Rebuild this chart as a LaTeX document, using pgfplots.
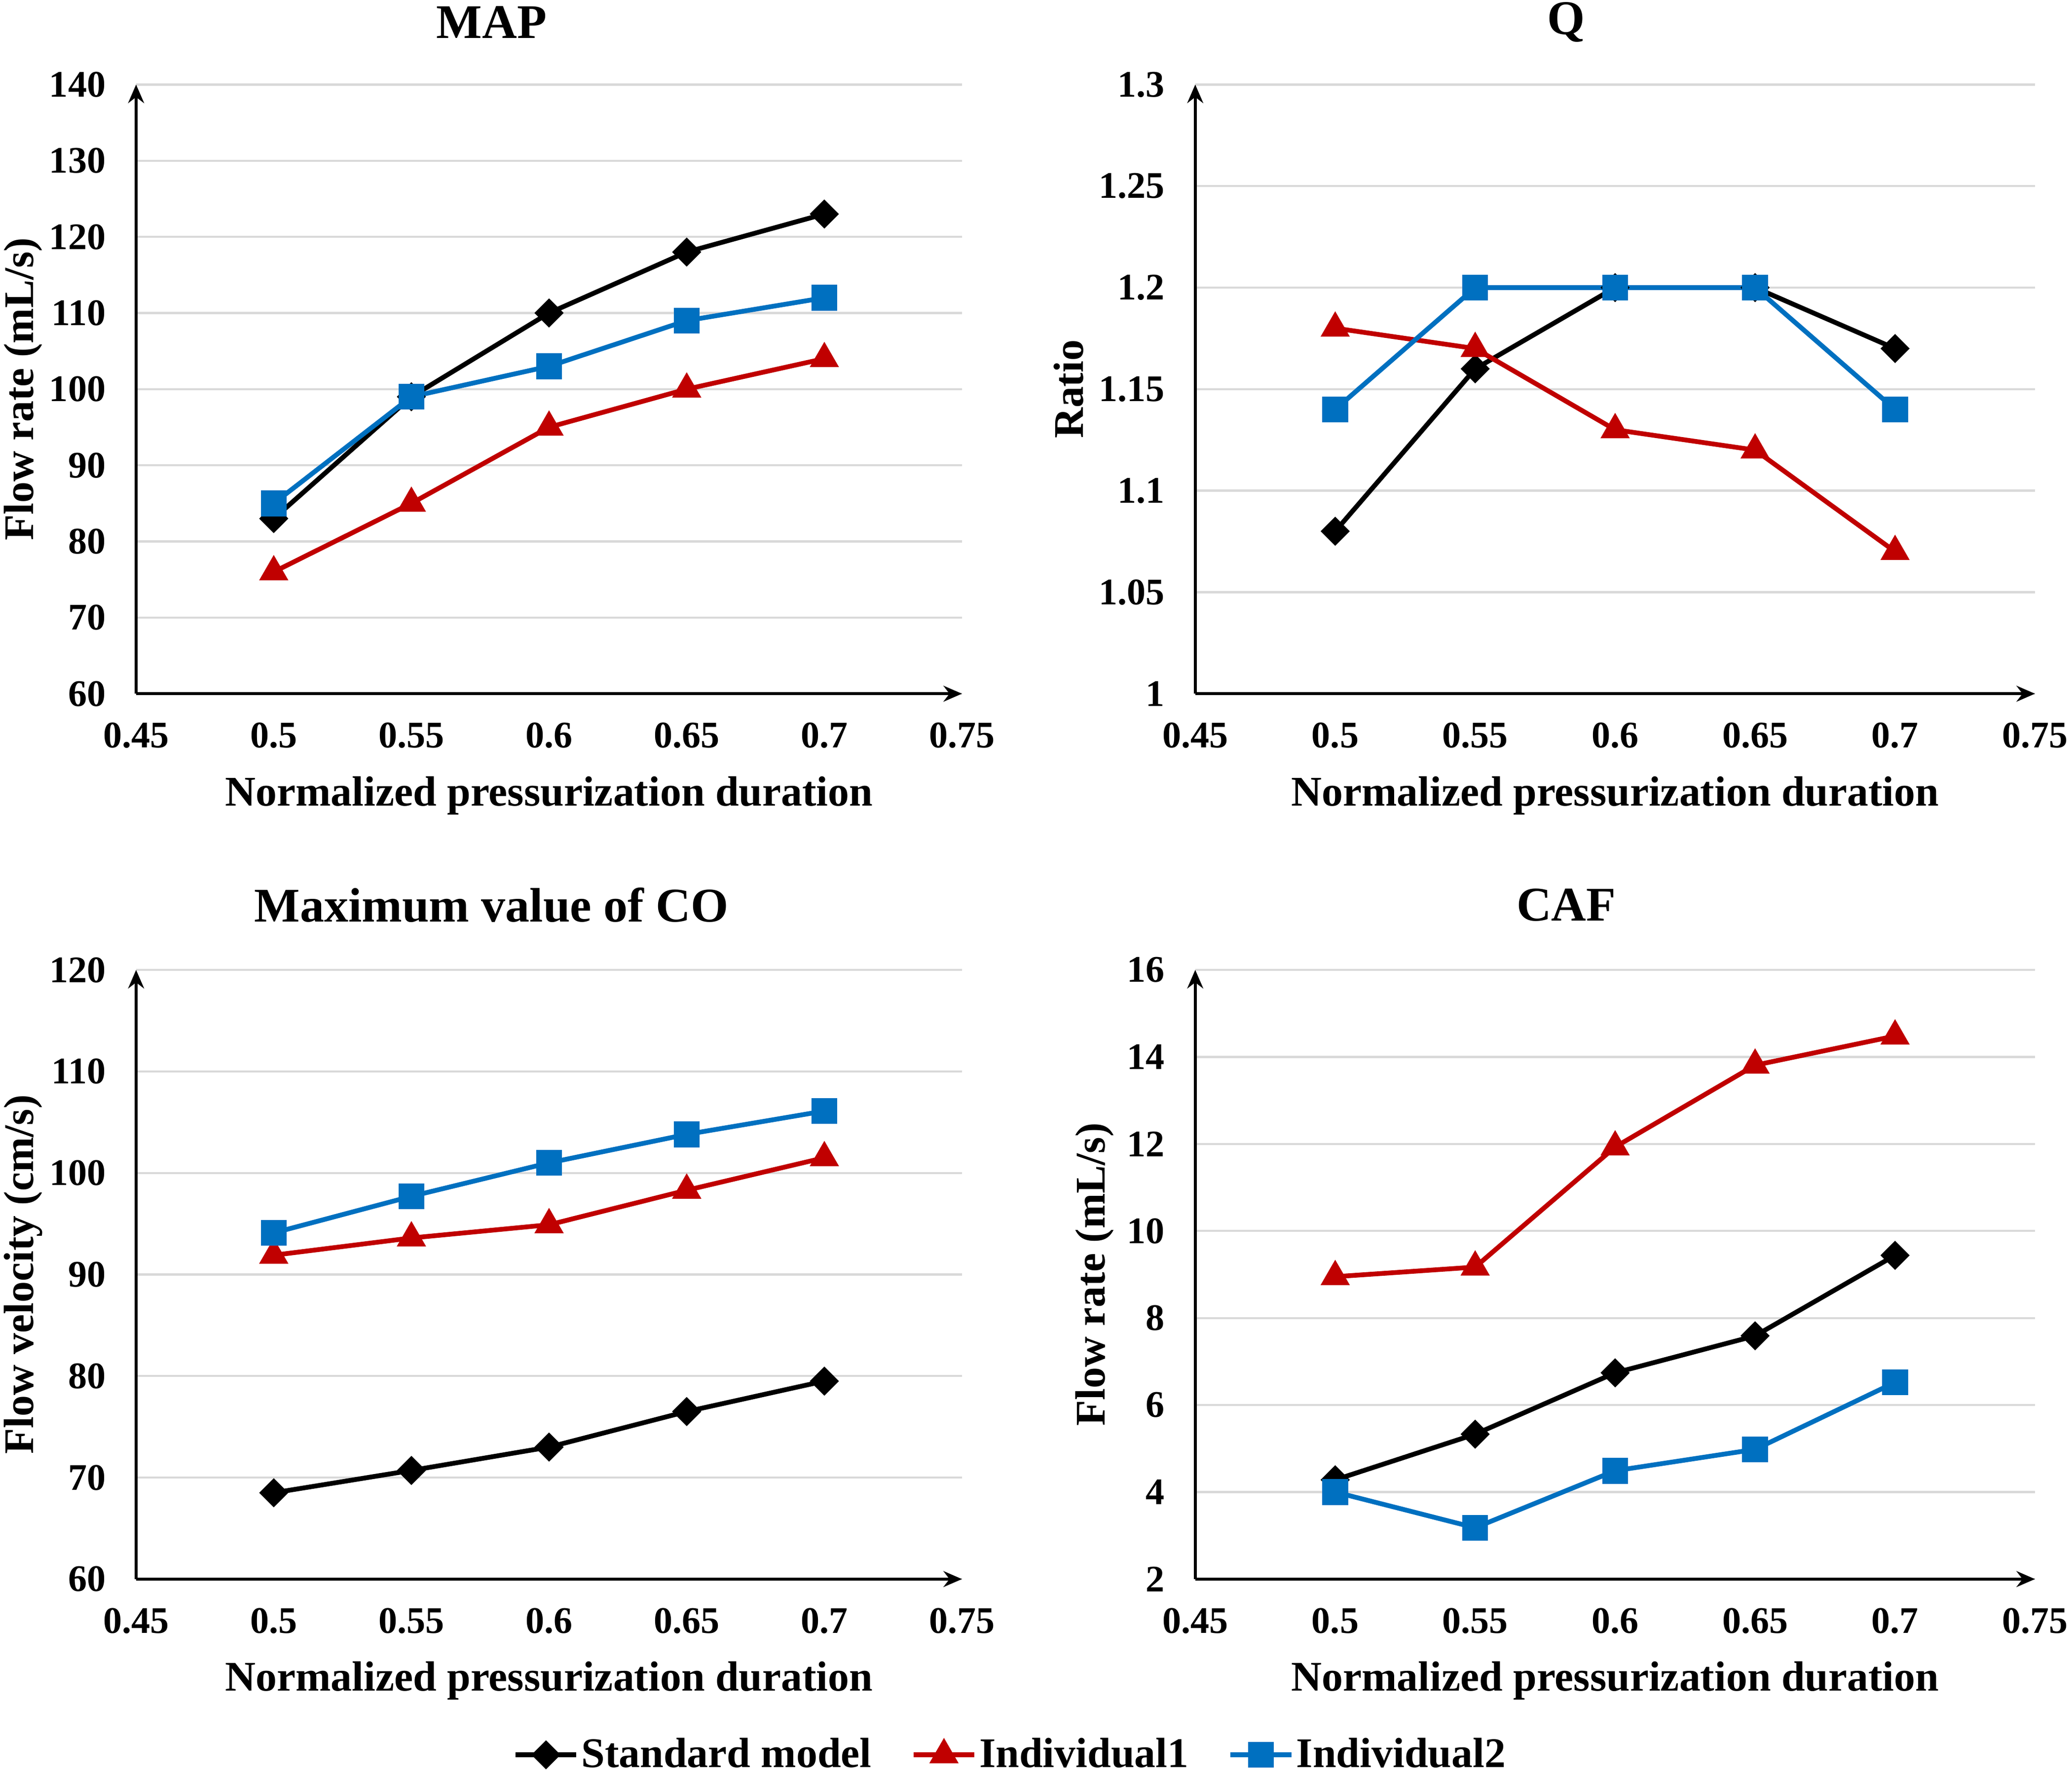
\documentclass[border=0pt]{standalone}
\usepackage{fontspec}
\setmainfont{Liberation Serif}
\usepackage{pgfplots}
\pgfplotsset{compat=1.18}
\usetikzlibrary{arrows.meta}
\definecolor{cred}{RGB}{192,0,0}
\definecolor{cblue}{RGB}{0,112,192}
\definecolor{cgrid}{RGB}{217,217,217}

\pgfplotsset{
 every axis title shift=0pt,
 panel/.style={
  scale only axis,
  axis lines=left,
  axis line style={line width=1.2pt, black},
  x axis line style={-{Stealth[length=7pt,width=6pt]}},
  y axis line style={-{Stealth[length=7pt,width=6pt]}},
  xmin=0.45, xmax=0.75,
  xtick={0.45,0.5,0.55,0.6,0.65,0.7,0.75},
  xticklabels={0.45,0.5,0.55,0.6,0.65,0.7,0.75},
  major tick length=0pt,
  ymajorgrids,
  grid style={cgrid, line width=0.8pt},
  tick label style={font=\fontsize{14.2}{16}\selectfont\bfseries},
  xticklabel style={yshift=-7.5pt},
  yticklabel style={xshift=-8pt},
  label style={font=\fontsize{16}{19}\selectfont\bfseries},
  title style={font=\fontsize{18.3}{21}\selectfont\bfseries, anchor=center},
  xlabel={Normalized pressurization duration},
  xlabel style={at={(axis description cs:0.5,0)}, anchor=center, yshift=-38.5pt},
  clip=false,
 },
 std/.style={black, line width=1.8pt, mark=square*, mark size=3pt, mark options={rotate=45, solid}},
 ind1/.style={cred, line width=1.8pt, mark=triangle*, mark size=4.6pt, mark options={solid}},
 ind2/.style={cblue, line width=1.8pt, mark=square*, mark size=4pt, mark options={solid}},
}

\begin{document}
\begin{tikzpicture}
\path[use as bounding box] (0,0) rectangle (784pt,671.07pt);

% ---- MAP ----
\begin{axis}[panel,
  at={(51.5pt,408.57pt)}, anchor=south west,
  width=312.5pt, height=230.5pt,
  ymin=60, ymax=140,
  ytick={60,70,80,90,100,110,120,130,140},
  yticklabels={60,70,80,90,100,110,120,130,140},
  title={MAP},
  title style={at={(axis description cs:0.4304,1)}, yshift=23.5pt},
  ylabel={Flow rate (mL/s)},
  ylabel style={at={(axis description cs:-0.137,0.5)}, anchor=center},
]
\addplot[std] coordinates {(0.5,83) (0.55,99) (0.6,110) (0.65,118) (0.7,123)};
\addplot[ind1] coordinates {(0.5,76) (0.55,85) (0.6,95) (0.65,100) (0.7,104)};
\addplot[ind2] coordinates {(0.5,85) (0.55,99) (0.6,103) (0.65,109) (0.7,112)};
\end{axis}

% ---- Q ----
\begin{axis}[panel,
  at={(452.25pt,408.57pt)}, anchor=south west,
  width=317.75pt, height=230.5pt,
  ymin=1, ymax=1.3,
  ytick={1,1.05,1.1,1.15,1.2,1.25,1.3},
  yticklabels={1,1.05,1.1,1.15,1.2,1.25,1.3},
  title={Q},
  title style={at={(axis description cs:0.4418,1)}, yshift=23.5pt},
  ylabel={Ratio},
  ylabel style={at={(axis description cs:-0.151,0.5)}, anchor=center},
]
\addplot[std] coordinates {(0.5,1.08) (0.55,1.16) (0.6,1.20) (0.65,1.20) (0.7,1.17)};
\addplot[ind1] coordinates {(0.5,1.18) (0.55,1.17) (0.6,1.13) (0.65,1.12) (0.7,1.07)};
\addplot[ind2] coordinates {(0.5,1.14) (0.55,1.20) (0.6,1.20) (0.65,1.20) (0.7,1.14)};
\end{axis}

% ---- CO ----
\begin{axis}[panel,
  at={(51.5pt,73.57pt)}, anchor=south west,
  width=312.5pt, height=230.5pt,
  ymin=60, ymax=120,
  ytick={60,70,80,90,100,110,120},
  yticklabels={60,70,80,90,100,110,120},
  title={Maximum value of CO},
  title style={at={(axis description cs:0.4304,1)}, yshift=24.5pt},
  ylabel={Flow velocity (cm/s)},
  ylabel style={at={(axis description cs:-0.137,0.5)}, anchor=center},
  legend columns=3,
  legend style={at={(axis description cs:1.059,-0.2885)}, anchor=center,
    draw=none, fill=none,
    font=\fontsize{16}{19}\selectfont\bfseries,
    nodes={inner xsep=1pt},
    /tikz/every even column/.append style={column sep=14pt}},
  legend image code/.code={\draw[mark repeat=2,mark phase=2] plot coordinates {(0pt,0pt)(11.5pt,0pt)(23pt,0pt)};},
]
\addplot[std] coordinates {(0.5,68.5) (0.55,70.7) (0.6,73.0) (0.65,76.5) (0.7,79.5)};
\addplot[ind1] coordinates {(0.5,91.9) (0.55,93.6) (0.6,94.9) (0.65,98.3) (0.7,101.5)};
\addplot[ind2] coordinates {(0.5,94.1) (0.55,97.7) (0.6,101.0) (0.65,103.8) (0.7,106.1)};
\legend{Standard model, Individual1, Individual2}
\end{axis}

% ---- CAF ----
\begin{axis}[panel,
  at={(452.25pt,73.57pt)}, anchor=south west,
  width=317.75pt, height=230.5pt,
  ymin=2, ymax=16,
  ytick={2,4,6,8,10,12,14,16},
  yticklabels={2,4,6,8,10,12,14,16},
  title={CAF},
  title style={at={(axis description cs:0.4418,1)}, yshift=24.5pt},
  ylabel={Flow rate (mL/s)},
  ylabel style={at={(axis description cs:-0.1195,0.5)}, anchor=center},
]
\addplot[std] coordinates {(0.5,4.28) (0.55,5.33) (0.6,6.74) (0.65,7.59) (0.7,9.44)};
\addplot[ind1] coordinates {(0.5,8.95) (0.55,9.17) (0.6,11.93) (0.65,13.81) (0.7,14.48)};
\addplot[ind2] coordinates {(0.5,4.0) (0.55,3.18) (0.6,4.49) (0.65,4.98) (0.7,6.52)};
\end{axis}
\end{tikzpicture}
\end{document}
